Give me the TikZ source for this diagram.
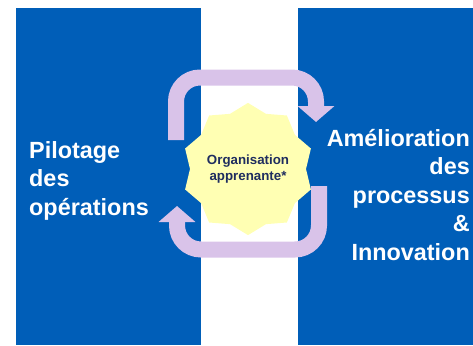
\documentclass[tikz,border=0pt]{standalone}
\usepackage{fontspec}
\setmainfont{Liberation Sans}
\usepackage{tikz}
\usetikzlibrary{positioning}
\usetikzlibrary{shapes.geometric}
\usetikzlibrary{arrows.meta}
\definecolor{panelblue}{RGB}{0,94,184}
\definecolor{bandlilac}{RGB}{217,195,233}
\definecolor{staryellow}{RGB}{255,255,179}
\definecolor{starnavy}{RGB}{31,45,95}

\begin{document}
\begin{tikzpicture}[x=1pt,y=-1pt,
	panel/.style={fill=panelblue, inner sep=0, minimum height=337pt},
	bigtext/.style={text=white, inner sep=0, font=\fontsize{23.4}{28.5}\selectfont\bfseries},
	loopband/.style={draw=bandlilac, line width=16pt, rounded corners=24pt, -{Triangle[width=36pt,length=16pt]}}]
			\useasboundingbox (0,0) rectangle (473,345);
			\node at (108.5,176.5) (P1) [panel, minimum width=185pt] {} ;
			\node at (385.5,176.5) (P2) [panel, minimum width=175pt] {} ;
			\node at (248,169) (OA) [star, star points=10, star point ratio=1.14, minimum size=122pt, inner sep=0, fill=staryellow, text=starnavy, align=center, font=\fontsize{13.3}{16.3}\selectfont\bfseries] {Organisation\\apprenante*} ;
			\node at (29,215) (PO) [bigtext, anchor=base west, align=left] {Pilotage\\des\\opérations} ;
			\node at (470,260) (AP) [bigtext, anchor=base east, align=right] {Amélioration\\des\\processus\\\&\\Innovation} ;
			\coordinate (T0) at (176,140) ; \coordinate (TT) at (248,77.5) ; \coordinate (T1) at (316,122) ;
			\coordinate (B0) at (319,186) ; \coordinate (BB) at (248,249.5) ; \coordinate (B1) at (177,206) ;
			\draw[loopband] (T0) |- (TT) -| (T1); \draw[loopband] (B0) |- (BB) -| (B1);
\end{tikzpicture}
\end{document}
